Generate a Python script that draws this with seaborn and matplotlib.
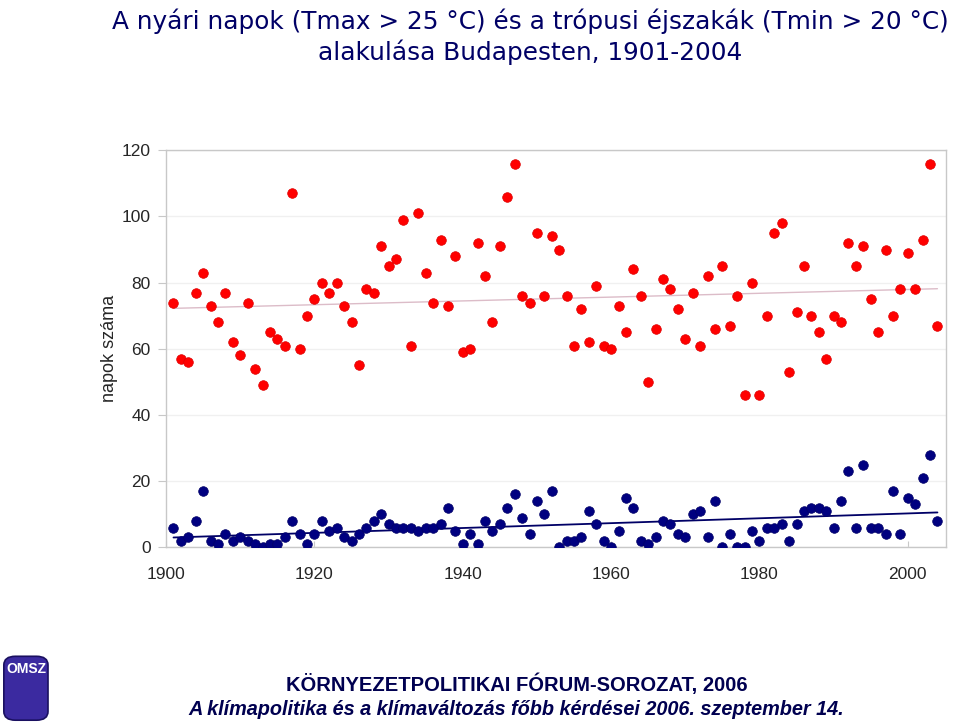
import numpy as np
import pandas as pd
import matplotlib
matplotlib.use("Agg")
import matplotlib.pyplot as plt
import seaborn as sns
from matplotlib.patches import FancyBboxPatch

# adatok leolvasva az ábráról
years = list(range(1901, 2005))
nyari_napok = [74, 57, 56, 77, 83, 73, 68, 77, 62, 58,
               74, 54, 49, 65, 63, 61, 107, 60, 70, 75,
               80, 77, 80, 73, 68, 55, 78, 77, 91, 85,
               87, 99, 61, 101, 83, 74, 93, 73, 88, 59,
               60, 92, 82, 68, 91, 106, 116, 76, 74, 95,
               76, 94, 90, 76, 61, 72, 62, 79, 61, 60,
               73, 65, 84, 76, 50, 66, 81, 78, 72, 63,
               77, 61, 82, 66, 85, 67, 76, 46, 80, 46,
               70, 95, 98, 53, 71, 85, 70, 65, 57, 70,
               68, 92, 85, 91, 75, 65, 90, 70, 78, 89,
               78, 93, 116, 67]
tropusi_ejszakak = [6, 2, 3, 8, 17, 2, 1, 4, 2, 3,
                    2, 1, 0, 1, 1, 3, 8, 4, 1, 4,
                    8, 5, 6, 3, 2, 4, 6, 8, 10, 7,
                    6, 6, 6, 5, 6, 6, 7, 12, 5, 1,
                    4, 1, 8, 5, 7, 12, 16, 9, 4, 14,
                    10, 17, 0, 2, 2, 3, 11, 7, 2, 0,
                    5, 15, 12, 2, 1, 3, 8, 7, 4, 3,
                    10, 11, 3, 14, 0, 4, 0, 0, 5, 2,
                    6, 6, 7, 2, 7, 11, 12, 12, 11, 6,
                    14, 23, 6, 25, 6, 6, 4, 17, 4, 15,
                    13, 21, 28, 8]
x_ticks = [1900, 1920, 1940, 1960, 1980, 2000]
y_ticks = [0, 20, 40, 60, 80, 100, 120]

df = pd.DataFrame({"ev": years, "nyari": nyari_napok, "tropusi": tropusi_ejszakak})

sns.set_style("white")
plt.rcParams['font.family'] = ['Liberation Sans', 'DejaVu Sans']

fig = plt.figure(figsize=(9.6, 7.26), dpi=100)
ax = fig.add_axes([0.173, 0.246, 0.812, 0.547])

# trendvonalak
sns.regplot(x="ev", y="nyari", data=df, scatter=False, ci=None, ax=ax,
            line_kws={"color": "#dcbcc8", "linewidth": 1.0})
sns.regplot(x="ev", y="tropusi", data=df, scatter=False, ci=None, ax=ax,
            line_kws={"color": "#000066", "linewidth": 1.3})

# pontok
sns.scatterplot(x="ev", y="nyari", data=df, ax=ax, color="#ff0000",
                edgecolor="#dd0000", linewidth=0.5, s=48, zorder=3)
sns.scatterplot(x="ev", y="tropusi", data=df, ax=ax, color="#000080",
                edgecolor="#000066", linewidth=0.5, s=48, zorder=3)

ax.set_xlim(1900, 2005.1)
ax.set_ylim(0, 120)
ax.set_xticks(x_ticks)
ax.set_yticks(y_ticks)
ax.grid(axis="y", color="#f0f0f0", linewidth=1)
ax.set_axisbelow(True)
for s in ax.spines.values():
    s.set_color("#c8c8c8")
    s.set_linewidth(1)
ax.tick_params(axis="y", direction="out", length=6, color="#c8c8c8",
               labelsize=12.5, pad=5, left=True)
ax.tick_params(axis="x", direction="in", length=4, color="#c8c8c8",
               labelsize=12.5, pad=14, bottom=True)
ax.set_xlabel("")
ax.set_ylabel("napok száma", fontsize=13, labelpad=3)

# cím
fig.text(0.552, 0.988, "A nyári napok (Tmax > 25 °C) és a trópusi éjszakák (Tmin > 20 °C)",
         ha="center", va="top", fontsize=17.8, color="#000066", family=["DejaVu Sans"])
fig.text(0.552, 0.946, "alakulása Budapesten, 1901-2004",
         ha="center", va="top", fontsize=17.8, color="#000066", family=["DejaVu Sans"])

# lábléc
fig.text(0.538, 0.057, "KÖRNYEZETPOLITIKAI FÓRUM-SOROZAT, 2006",
         ha="center", va="center", fontsize=14.5, fontweight="bold", color="#000050")
fig.text(0.538, 0.023, "A klímapolitika és a klímaváltozás főbb kérdései 2006. szeptember 14.",
         ha="center", va="center", fontsize=14.3, fontweight="bold", style="italic",
         color="#000050")

# OMSZ logó
logo = FancyBboxPatch((0.004, 0.008), 0.046, 0.088, boxstyle="round,pad=0.0,rounding_size=0.012",
                      transform=fig.transFigure, facecolor="#3b2aa0", edgecolor="#1a1060",
                      linewidth=1.2)
fig.patches.append(logo)
fig.text(0.027, 0.078, "OMSZ", ha="center", va="center", fontsize=10, fontweight="bold",
         color="white")

plt.savefig("out.png", dpi=100)
plt.close()
